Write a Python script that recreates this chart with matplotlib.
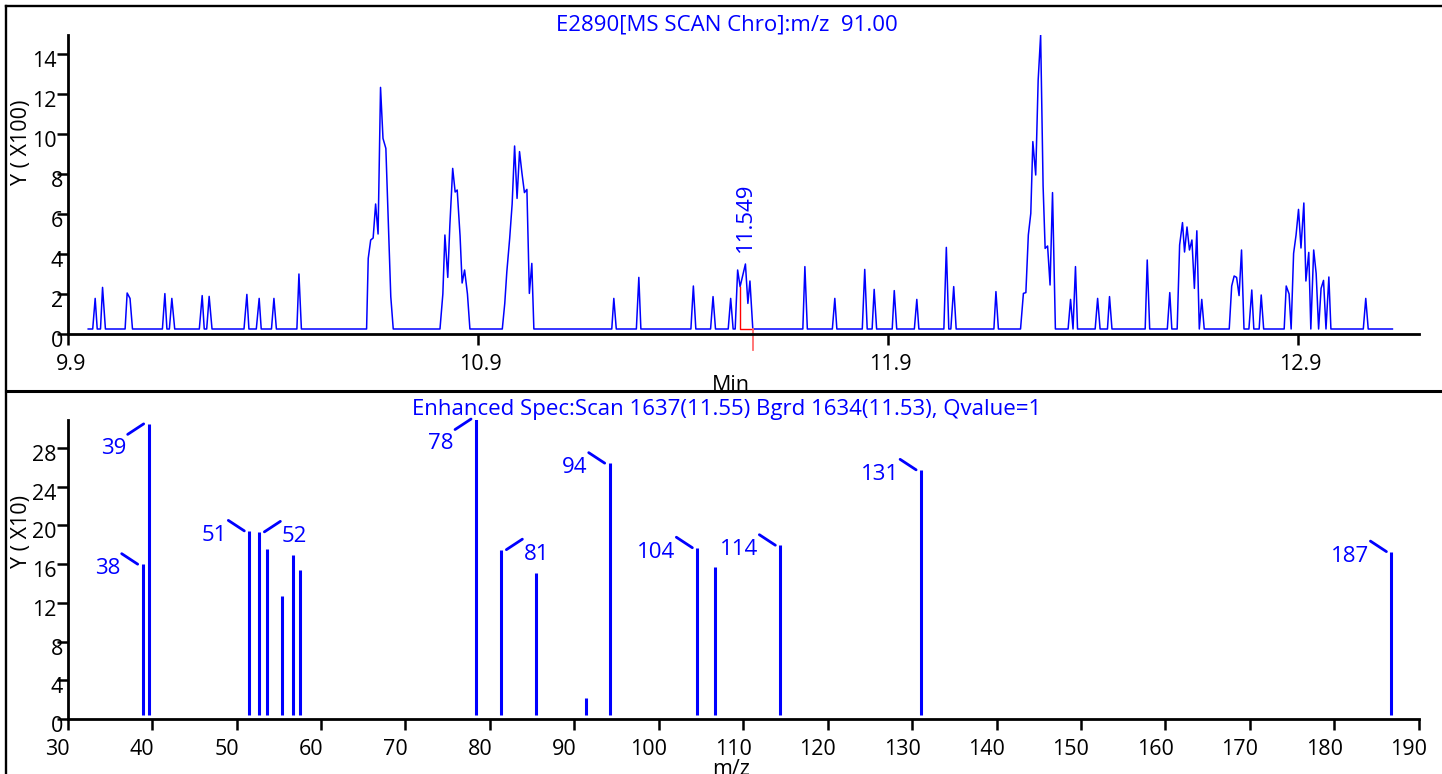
import matplotlib
matplotlib.use('Agg')
import matplotlib.pyplot as plt
import matplotlib.transforms as mtransforms
from matplotlib.lines import Line2D

# ---- chromatogram (m/z 91), retention time in min, intensity in x100 ----
rt_min = [
    9.950, 9.961, 9.967, 9.972, 9.980, 9.985, 9.992, 10.040, 10.045, 10.052,
    10.058, 10.131, 10.137, 10.142, 10.148, 10.154, 10.161, 10.221, 10.228, 10.233,
    10.239, 10.245, 10.252, 10.330, 10.337, 10.342, 10.360, 10.367, 10.372, 10.397,
    10.403, 10.409, 10.459, 10.464, 10.470, 10.629, 10.633, 10.639, 10.645, 10.651,
    10.657, 10.663, 10.669, 10.676, 10.682, 10.688, 10.694, 10.808, 10.815, 10.820,
    10.827, 10.832, 10.839, 10.845, 10.850, 10.857, 10.862, 10.868, 10.875, 10.881,
    10.960, 10.966, 10.971, 10.978, 10.984, 10.990, 10.996, 11.002, 11.008, 11.014,
    11.020, 11.026, 11.032, 11.037, 11.227, 11.232, 11.238, 11.287, 11.293, 11.298,
    11.420, 11.426, 11.432, 11.468, 11.474, 11.480, 11.511, 11.517, 11.523, 11.528,
    11.534, 11.540, 11.546, 11.553, 11.559, 11.564, 11.571, 11.693, 11.698, 11.704,
    11.765, 11.771, 11.776, 11.838, 11.844, 11.850, 11.862, 11.867, 11.873, 11.911,
    11.916, 11.922, 11.965, 11.971, 11.976, 12.037, 12.043, 12.049, 12.054, 12.061,
    12.067, 12.159, 12.164, 12.170, 12.224, 12.231, 12.237, 12.243, 12.249, 12.254,
    12.261, 12.267, 12.273, 12.279, 12.284, 12.290, 12.296, 12.302, 12.309, 12.335,
    12.340, 12.346, 12.352, 12.358, 12.363, 12.406, 12.412, 12.418, 12.436, 12.441,
    12.447, 12.528, 12.533, 12.539, 12.582, 12.588, 12.593, 12.606, 12.612, 12.619,
    12.624, 12.630, 12.636, 12.642, 12.648, 12.654, 12.660, 12.666, 12.672, 12.733,
    12.739, 12.745, 12.751, 12.757, 12.763, 12.769, 12.781, 12.788, 12.793, 12.806,
    12.811, 12.817, 12.867, 12.872, 12.879, 12.884, 12.890, 12.896, 12.902, 12.908,
    12.915, 12.920, 12.927, 12.932, 12.939, 12.945, 12.951, 12.957, 12.963, 12.969,
    12.976, 12.981, 13.060, 13.066, 13.072, 13.131,
]
tic_x100 = [
    0.25, 0.25, 1.78, 0.25, 0.25, 2.33, 0.25, 0.25, 2.05, 1.78,
    0.25, 0.25, 2.02, 0.25, 0.25, 1.78, 0.25, 0.25, 1.92, 0.25,
    0.25, 1.88, 0.25, 0.25, 1.98, 0.25, 0.25, 1.78, 0.25, 0.25,
    1.78, 0.25, 0.25, 3.00, 0.25, 0.25, 3.78, 4.70, 4.80, 6.50,
    5.00, 12.33, 9.78, 9.28, 5.60, 1.87, 0.25, 0.25, 2.00, 4.95,
    2.83, 5.40, 8.28, 7.10, 7.20, 4.90, 2.55, 3.20, 2.00, 0.25,
    0.25, 1.53, 3.10, 4.78, 6.50, 9.40, 6.78, 9.12, 8.03, 7.07,
    7.23, 2.03, 3.53, 0.25, 0.25, 1.78, 0.25, 0.25, 2.83, 0.25,
    0.25, 2.40, 0.25, 0.25, 1.87, 0.25, 0.25, 1.78, 0.25, 0.25,
    3.20, 2.37, 2.90, 3.50, 1.53, 2.65, 0.25, 0.25, 3.37, 0.25,
    0.25, 1.78, 0.25, 0.25, 3.23, 0.25, 0.25, 2.23, 0.25, 0.25,
    2.17, 0.25, 0.25, 1.73, 0.25, 0.25, 4.33, 0.25, 0.25, 2.37,
    0.25, 0.25, 2.12, 0.25, 0.25, 2.03, 2.07, 4.95, 6.03, 9.62,
    7.95, 12.70, 14.95, 7.40, 4.28, 4.40, 2.45, 7.07, 0.25, 0.25,
    0.25, 1.73, 0.25, 3.37, 0.25, 0.25, 1.78, 0.25, 0.25, 1.87,
    0.25, 0.25, 3.70, 0.25, 0.25, 2.07, 0.25, 0.25, 4.45, 5.57,
    4.10, 5.35, 4.20, 4.70, 2.28, 5.16, 0.25, 1.73, 0.25, 0.25,
    2.40, 2.90, 2.83, 1.92, 4.20, 0.25, 0.25, 2.20, 0.25, 0.25,
    1.95, 0.25, 0.25, 2.40, 2.00, 0.25, 4.03, 4.95, 6.23, 4.30,
    6.55, 2.65, 4.08, 0.25, 4.20, 3.03, 0.25, 2.28, 2.68, 0.25,
    2.85, 0.25, 0.25, 1.78, 0.25, 0.25,
]
peak_rt = 11.553
peak_height = 3.50
peak_label = '11.549'
integ_start = 11.540
integ_end = 11.571
integ_start_level = 2.37
integ_base_level = 0.25

# ---- enhanced spectrum, intensity in x10 ----
mz = [38.88, 39.59, 51.51, 52.70, 53.57, 55.42, 56.72, 57.51, 78.36,
      81.36, 85.43, 91.39, 94.19, 104.57, 106.67, 114.40, 131.07, 186.77]
ms_x10 = [16.0, 30.5, 19.44, 19.34, 17.6, 12.7, 16.9, 15.4, 31.0,
          17.5, 15.07, 2.2, 26.44, 17.7, 15.7, 17.96, 25.75, 17.3]
ion_labels = ['38', '39', '51', '52', '78', '81', '94', '104', '114', '131', '187']
ion_mz = [38.88, 39.59, 51.51, 52.70, 78.36, 81.36, 94.19, 104.57, 114.40, 131.07, 186.77]
ion_side = ['ul', 'dl', 'ul', 'ur', 'dl', 'ur', 'ul', 'ul', 'ul', 'ul', 'ul']

top_title = 'E2890[MS SCAN Chro]:m/z  91.00'
bottom_title = 'Enhanced Spec:Scan 1637(11.55) Bgrd 1634(11.53), Qvalue=1'
top_xticks = [9.9, 10.9, 11.9, 12.9]
top_yticks = [0, 2, 4, 6, 8, 10, 12, 14]
bottom_xticks = list(range(30, 191, 10))
bottom_yticks = [0, 4, 8, 12, 16, 20, 24, 28]

BLUE = '#0000ff'
W, H = 1442, 774
BLUE_FS = 16
BLACK_FS = 15.5
plt.rcParams['font.family'] = ['Open Sans', 'DejaVu Sans']

fig = plt.figure(figsize=(W / 100, H / 100), dpi=100)


def fx(px):
    return px / W


def fy(py):
    return 1 - py / H


def shift(labels, dx, dy, single_dx=0):
    # move tick labels by a few pixels
    for lbl in labels:
        extra = single_dx if len(lbl.get_text()) == 1 else 0
        off = mtransforms.ScaledTranslation((dx + extra) / 100, dy / 100, fig.dpi_scale_trans)
        lbl.set_transform(lbl.get_transform() + off)


def style(ax):
    ax.spines['top'].set_visible(False)
    ax.spines['right'].set_visible(False)
    for s in ['left', 'bottom']:
        ax.spines[s].set_linewidth(2.0)
    ax.tick_params(direction='out', length=7.8, width=1.8, labelsize=BLACK_FS, colors='black')
    ax.tick_params(axis='y', pad=0)
    ax.tick_params(axis='x', pad=6.5)
    ax.patch.set_visible(False)


ax1 = fig.add_axes([fx(67.7), fy(334), (1418.7 - 67.7) / W, (334 - 35) / H])
ax2 = fig.add_axes([fx(67.7), fy(719), (1418.7 - 67.7) / W, (719 - 420) / H])

# chromatogram
ax1.plot(rt_min, tic_x100, color=BLUE, lw=1.1)
ax1.plot([integ_start, integ_start, integ_end], [integ_start_level, integ_base_level, integ_base_level],
         color='red', lw=1.0)
ax1.plot([integ_end, integ_end], [integ_base_level, -0.8], color='#ff6b6b', lw=1.3, clip_on=False)
ax1.annotate(peak_label, xy=(peak_rt, peak_height), xytext=(0, 12), textcoords='offset pixels',
             rotation=90, ha='center', va='bottom', color=BLUE, fontsize=BLUE_FS)
ax1.set_xlim(9.9, 9.9 + 1351 / 410)
ax1.set_ylim(0, 14.95)
ax1.set_xticks(top_xticks)
ax1.set_xticklabels([f'{t:.1f}' for t in top_xticks])
ax1.set_yticks(top_yticks)
style(ax1)
shift(ax1.get_yticklabels(), 0, -5, single_dx=6)
shift(ax1.get_xticklabels(), 3, 0)

# spectrum
ax2.vlines(mz, 0.45, ms_x10, color=BLUE, lw=2.2)
ax2.set_xlim(30, 190)
ax2.set_ylim(0, 30.9)
ax2.set_xticks(bottom_xticks)
ax2.set_yticks(bottom_yticks)
style(ax2)
shift(ax2.get_yticklabels(), 0, -5, single_dx=6)
shift(ax2.get_xticklabels(), -10, 0)

for lab, m, side in zip(ion_labels, ion_mz, ion_side):
    top = ms_x10[mz.index(m)]
    sx = -1 if side in ('ul', 'dl') else 1
    sy = -1 if side == 'dl' else 1
    start = mtransforms.offset_copy(ax2.transData, fig=fig, x=5 * sx, y=0, units='dots')
    ax2.annotate('', xy=(m, top), xycoords=start, xytext=(16 * sx, 10.5 * sy),
                 textcoords='offset pixels', annotation_clip=False,
                 arrowprops=dict(arrowstyle='-', color=BLUE, lw=2.0, shrinkA=0, shrinkB=0))
    ty = -10 if sy > 0 else -30
    ax2.annotate(lab, xy=(m, top), xytext=(22.5 * sx, ty), textcoords='offset pixels',
                 ha='right' if sx < 0 else 'left', va='baseline', color=BLUE, fontsize=BLUE_FS,
                 annotation_clip=False)

# titles and axis labels
fig.text(fx(727), fy(30), top_title, color=BLUE, fontsize=BLUE_FS, ha='center', va='baseline')
fig.text(fx(727), fy(414.5), bottom_title, color=BLUE, fontsize=BLUE_FS, ha='center', va='baseline')
fig.text(fx(731), fy(391), 'Min', fontsize=BLACK_FS, ha='center', va='baseline')
fig.text(fx(731), fy(775), 'm/z', fontsize=BLACK_FS, ha='center', va='baseline')
fig.text(fx(22), fy(142), 'Y ( X100)', fontsize=BLACK_FS, rotation=90, ha='center', va='center')
fig.text(fx(22), fy(532), 'Y ( X10)', fontsize=BLACK_FS, rotation=90, ha='center', va='center')

# panel frames
frame = dict(color='black', lw=1.7, transform=fig.transFigure)
fig.add_artist(Line2D([fx(6.2), fx(1445)], [fy(6.2), fy(6.2)], **frame))
fig.add_artist(Line2D([fx(6.2), fx(6.2)], [fy(6.2), fy(780)], **frame))
fig.add_artist(Line2D([fx(6.2), fx(1445)], [fy(390.5), fy(390.5)], color='black', lw=2.2,
                      transform=fig.transFigure))

fig.savefig('out.png', dpi=100)
